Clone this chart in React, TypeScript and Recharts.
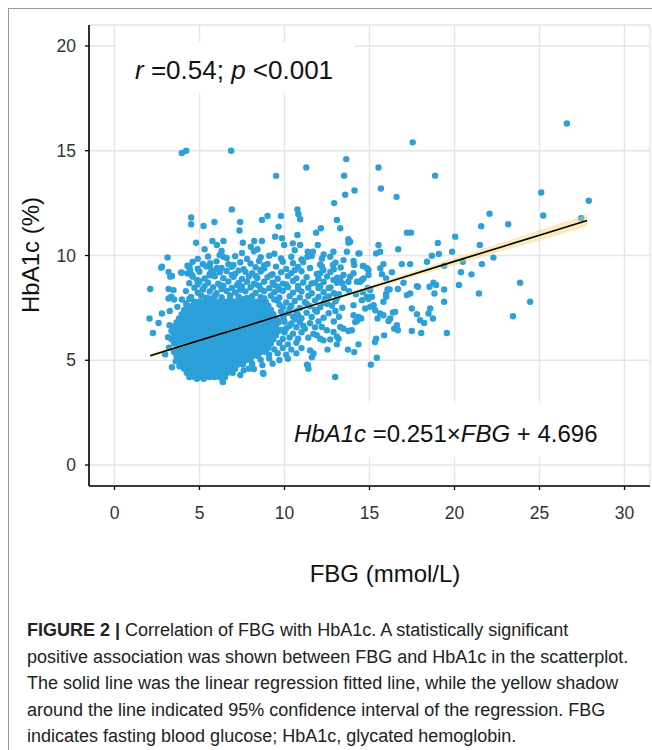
import React from "react";
import { ComposedChart, Scatter, Area, Line, XAxis, YAxis, CartesianGrid } from "recharts";

const FONT = "'Liberation Sans', Arial, Helvetica, sans-serif";
const DOT = "#2ba0da";

// axis ticks
const xTicks = [0, 5, 10, 15, 20, 25, 30];
const yTicks = [0, 5, 10, 15, 20];

// regression fit + 95% CI
const fitX = [2.1, 5, 8, 11, 14, 17, 20, 23, 26, 27.8];
const fitY = [5.22, 5.95, 6.7, 7.46, 8.21, 8.96, 9.72, 10.47, 11.22, 11.67];
const ciLow = [5.12, 5.9, 6.66, 7.4, 8.12, 8.83, 9.55, 10.26, 10.96, 11.38];
const ciHigh = [5.32, 6.0, 6.74, 7.52, 8.3, 9.09, 9.89, 10.68, 11.48, 11.96];

// sparse points (FBG, HbA1c)
const outliers: [number, number][] = [
  [3.96, 14.89], [4.22, 15.0], [6.86, 15.0], [13.63, 14.6], [11.28, 14.2], [9.51, 13.8],
  [13.51, 13.81], [13.57, 12.9], [14.12, 13.1], [12.92, 12.5], [6.9, 12.2], [10.76, 12.2],
  [26.61, 16.3], [17.54, 15.4], [15.53, 14.2], [18.86, 13.81], [15.67, 13.2], [16.59, 12.8],
  [25.1, 13.01], [27.9, 12.61], [25.22, 11.91], [27.45, 11.78], [22.06, 11.99], [23.16, 11.49],
  [21.57, 11.4], [20.04, 10.9], [21.49, 10.5], [19.02, 10.6], [19.86, 10.18], [20.49, 9.7],
  [21.61, 9.59], [22.29, 9.9], [17.2, 11.09], [17.44, 11.09], [16.69, 10.3], [15.53, 10.5],
  [15.39, 10.1], [15.63, 10.18], [14.41, 10.1], [18.67, 9.99], [19.08, 10.07], [18.38, 9.7],
  [19.39, 9.51], [16.9, 9.59], [17.39, 9.59], [15.82, 9.59], [15.63, 9.39], [16.32, 9.2],
  [15.73, 9.11], [15.98, 8.91], [17.0, 8.7], [20.38, 9.2], [21.0, 9.1], [20.26, 8.59],
  [18.53, 8.51], [18.76, 8.7], [18.92, 8.59], [19.39, 8.38], [17.85, 8.51], [21.44, 8.19],
  [23.86, 8.7], [24.45, 7.79], [23.44, 7.1], [19.39, 7.79], [19.55, 6.3], [18.73, 6.99],
  [18.57, 7.47], [18.47, 7.23], [18.22, 6.78], [17.98, 6.91], [17.79, 7.2], [17.49, 7.47],
  [18.82, 8.19], [17.49, 6.4], [18.04, 6.3], [17.79, 8.54], [17.39, 8.19], [17.2, 8.11],
  [16.61, 6.67], [16.67, 6.43], [16.45, 6.51], [16.38, 7.28], [16.51, 7.31], [16.22, 6.99],
  [16.12, 6.88], [15.82, 7.15], [15.86, 6.19], [15.39, 6.03], [15.32, 5.87], [15.43, 5.12],
  [15.08, 4.79], [12.98, 4.2], [11.32, 4.79], [11.41, 4.6], [16.06, 8.38], [15.98, 8.16],
  [16.67, 8.4], [14.94, 7.93], [15.14, 8.03], [15.82, 7.79], [15.98, 8.03], [16.18, 8.38],
];

// scattered points above and right of the main cloud
const midScatter: [number, number][] = [
  [4.51, 11.81], [4.51, 11.49], [5.24, 11.41], [5.88, 11.6], [7.39, 11.6], [7.35, 11.19],
  [8.67, 11.7], [9.0, 11.89], [9.79, 11.89], [10.82, 11.97], [10.92, 11.73], [9.65, 11.38],
  [13.08, 11.7], [13.28, 11.3], [12.14, 11.3], [11.86, 11.09], [10.76, 10.98], [9.45, 10.9],
  [9.85, 10.82], [4.8, 10.61], [5.76, 10.69], [6.02, 10.5], [6.41, 10.69], [7.55, 10.61],
  [8.22, 10.69], [8.67, 10.69], [8.02, 10.42], [8.41, 10.3], [9.98, 10.5], [10.49, 10.58],
  [10.92, 10.5], [11.96, 10.5], [11.37, 10.18], [12.69, 9.94], [12.88, 10.18], [13.76, 10.61],
  [13.67, 10.18], [14.35, 10.1], [3.12, 9.91], [2.75, 9.42], [3.18, 9.22], [3.92, 9.19],
  [2.1, 8.4], [3.18, 8.4], [3.28, 8.99], [4.29, 9.51], [4.45, 9.3], [13.47, 9.78],
  [14.06, 9.15], [13.76, 8.75], [14.26, 8.75], [13.86, 10.66], [13.76, 10.78], [14.06, 9.74],
  [14.1, 9.55], [14.65, 9.5], [14.55, 8.83], [13.86, 8.99], [13.47, 9.07], [12.88, 8.83],
  [13.08, 8.7], [13.28, 8.91], [12.1, 9.15], [12.29, 9.31], [12.85, 9.55], [11.51, 10.1],
  [11.67, 10.18], [11.35, 9.94], [14.94, 9.3], [14.61, 9.5], [14.85, 9.39], [14.94, 9.07],
  [14.65, 8.91], [14.45, 8.75], [15.04, 8.35], [14.85, 8.03], [14.55, 7.87], [14.06, 7.63],
  [11.8, 8.7], [12.0, 8.45], [12.3, 8.25], [12.6, 8.45], [12.9, 8.2], [13.2, 8.15],
  [13.5, 8.45], [13.8, 8.3], [14.2, 8.15], [14.6, 8.25], [14.9, 8.45],
  [14.75, 7.47], [15.04, 7.55], [15.34, 7.39], [15.24, 7.63], [15.47, 6.99], [15.63, 7.23],
  [14.06, 7.15], [14.35, 7.07], [14.26, 6.88], [14.51, 6.99], [14.16, 6.83], [13.96, 6.43],
  [13.76, 6.4], [13.47, 6.51], [13.28, 6.59], [12.88, 6.35], [12.49, 6.43], [12.2, 6.59],
  [12.29, 5.95], [12.69, 5.99], [13.08, 6.14], [12.1, 6.03], [12.53, 5.51], [13.08, 5.76],
  [13.18, 6.03], [13.73, 5.51], [14.1, 5.39], [14.35, 5.76], [11.61, 5.15], [11.71, 5.32],
  [11.51, 5.47],
];

// points left of / below the core
const lowScatter: [number, number][] = [
  [2.06, 6.99], [2.26, 6.3], [2.59, 6.78], [2.79, 7.23], [3.38, 9.02], [3.96, 9.18],
  [4.35, 9.46], [3.34, 8.03], [3.51, 7.9], [3.96, 7.9], [4.22, 7.71], [3.24, 6.67],
  [2.98, 5.28], [3.38, 4.67], [3.82, 4.71], [4.85, 4.12], [5.33, 4.2], [6.37, 3.99],
  [6.22, 4.36], [8.73, 4.39], [11.38, 4.76], [2.79, 9.46], [3.18, 7.95], [3.47, 8.35],
  [4.41, 9.5], [4.55, 9.07], [4.85, 8.83], [5.63, 9.63], [6.02, 9.39], [5.82, 9.22],
  [6.41, 9.94], [6.18, 10.02], [5.24, 4.12], [6.38, 3.96], [8.76, 4.36], [4.06, 4.67],
  [4.65, 4.43], [3.2, 5.6], [3.15, 6.1], [3.25, 7.35], [3.7, 7.55], [7.4, 4.3],
  [7.9, 4.6], [3.6, 4.95],
];

// semi-dense band above the core
const upperScatter: [number, number][] = [
  [6.3, 10.22], [7.5, 10.12], [8.2, 10.2], [9.4, 10.08], [10.6, 10.25], [5.3, 10.3], [12.3, 10.05],
  [4.9, 9.84], [5.5, 9.95], [6.6, 9.88], [7.1, 9.97], [7.8, 9.83], [8.6, 9.92], [9.1, 9.99],
  [9.8, 9.86], [10.4, 9.94], [11.0, 9.81], [11.6, 9.98], [12.2, 9.85],
  [4.6, 9.7], [5.2, 9.6], [6.0, 9.72], [6.7, 9.58], [7.4, 9.68], [8.0, 9.62], [8.5, 9.74],
  [9.0, 9.6], [9.9, 9.7], [10.5, 9.63], [11.1, 9.69], [12.1, 9.57], [13.0, 9.66],
  [4.9, 9.37], [5.4, 9.48], [6.3, 9.4], [6.9, 9.46], [7.6, 9.35], [8.3, 9.44], [8.8, 9.38],
  [9.5, 9.47], [10.1, 9.36], [10.8, 9.45], [11.5, 9.4], [12.2, 9.48], [12.9, 9.34], [13.3, 9.43],
  [4.3, 9.14], [5.0, 9.23], [5.6, 9.12], [6.2, 9.2], [6.6, 9.26], [7.1, 9.13], [7.7, 9.22],
  [8.1, 9.15], [8.6, 9.24], [9.3, 9.11], [9.8, 9.2], [10.4, 9.16], [11.0, 9.25], [11.9, 9.12],
  [12.7, 9.21], [4.6, 8.99], [5.3, 8.9], [5.9, 9.01], [6.4, 8.92], [7.0, 8.98], [7.5, 8.88],
  [7.9, 9.0], [8.4, 8.93], [9.0, 8.97], [9.6, 8.89], [10.2, 9.02], [10.7, 8.91], [11.3, 8.96],
  [12.0, 8.9], [12.5, 9.0], [13.1, 8.94], [4.4, 8.68], [5.0, 8.77], [5.5, 8.7], [6.1, 8.66],
  [6.7, 8.76], [7.3, 8.69], [7.8, 8.74], [8.2, 8.65], [8.8, 8.75], [9.3, 8.7], [9.9, 8.66],
  [10.5, 8.78], [11.1, 8.71], [11.6, 8.67], [12.3, 8.74], [13.4, 8.68], [4.7, 8.46], [5.3, 8.54],
  [5.8, 8.48], [6.4, 8.55], [6.9, 8.45], [7.5, 8.52], [8.0, 8.47], [8.5, 8.56], [9.1, 8.44],
  [9.6, 8.51], [10.2, 8.49], [10.8, 8.55], [11.4, 8.46], [12.1, 8.53], [12.7, 8.48],
  [4.2, 8.3], [4.9, 8.22], [5.6, 8.28], [6.0, 8.2], [6.6, 8.31], [7.1, 8.24], [7.7, 8.29],
  [8.3, 8.21], [8.8, 8.3], [9.4, 8.25], [9.9, 8.32], [10.5, 8.23], [11.0, 8.28], [11.6, 8.2],
  [4.5, 8.02], [5.1, 8.08], [5.4, 7.99], [5.9, 8.06], [6.3, 8.0], [6.8, 8.09], [7.3, 8.03],
  [7.8, 7.98], [8.1, 8.07], [8.6, 8.01], [9.2, 8.08], [9.7, 8.0], [10.3, 8.06], [10.9, 7.99],
  [11.4, 8.07], [12.0, 8.02], [12.6, 8.05], [13.1, 7.98], [5.6, 9.05], [6.9, 9.07], [8.3, 9.03],
  [9.2, 9.06], [5.2, 8.38], [6.3, 8.4], [7.4, 8.36], [8.6, 8.39], [9.7, 8.37], [10.8, 8.4],
  [4.9, 8.62], [6.2, 8.6], [7.2, 8.58], [8.3, 8.62], [9.4, 8.6], [10.1, 8.62], [5.7, 9.3],
  [7.3, 9.28], [8.6, 9.31], [10.6, 9.3], [5.6, 9.52], [7.0, 9.55], [8.8, 9.53], [4.4, 7.93],
  [5.6, 7.95], [6.8, 7.94], [7.6, 7.92], [8.8, 7.96], [9.4, 7.9],
];

// looser points right of the core
const rightScatter: [number, number][] = [
  [9.6, 7.84], [10.1, 7.76], [10.6, 7.83], [11.2, 7.77], [11.8, 7.85], [12.3, 7.75], [13.0, 7.82],
  [9.9, 7.52], [10.4, 7.6], [10.9, 7.5], [11.5, 7.58], [12.1, 7.53], [12.8, 7.6], [13.4, 7.51],
  [9.8, 7.33], [10.2, 7.26], [10.7, 7.34], [11.3, 7.27], [11.9, 7.32], [12.6, 7.25],
  [9.95, 7.02], [10.5, 7.09], [11.0, 7.01], [11.6, 7.07], [12.3, 7.03], [13.2, 7.08],
  [10.0, 6.84], [10.4, 6.76], [10.9, 6.83], [11.5, 6.77], [12.0, 6.85],
  [10.1, 6.52], [10.7, 6.58], [11.2, 6.5], [11.8, 6.57], [10.0, 6.33], [10.5, 6.27],
  [11.0, 6.34], [11.7, 6.26], [9.9, 6.02], [10.3, 6.09], [10.8, 6.03], [11.4, 6.08],
  [9.7, 5.83], [10.2, 5.76], [10.7, 5.84], [9.4, 5.52], [9.9, 5.59], [10.4, 5.51], [11.0, 5.58],
  [9.1, 5.27], [9.6, 5.34], [10.1, 5.26], [10.7, 5.33], [8.6, 5.02], [9.1, 5.08], [9.7, 5.01],
  [10.2, 5.07], [8.1, 4.82], [8.7, 4.77], [9.3, 4.84], [7.6, 4.52], [8.2, 4.58],
  [9.7, 7.65], [10.3, 7.45], [10.8, 7.15], [11.3, 7.7], [11.8, 7.4], [12.4, 7.95], [10.6, 6.95],
  [9.9, 7.15], [10.3, 6.65], [11.1, 6.65], [12.5, 7.7], [13.0, 7.35], [12.9, 6.85], [11.9, 6.2],
  [9.8, 6.45], [9.6, 6.9],
];

// dense core of the cloud: [HbA1c, FBG values]
const coreRows: [number, number[]][] = [
  [7.8, [4.7, 5.0, 5.3, 5.6, 5.9, 6.2, 6.5, 6.8, 7.1, 7.4, 7.7, 8.0, 8.3, 8.6, 8.9]],
  [7.6, [4.25, 4.55, 4.85, 5.15, 5.45, 5.75, 6.05, 6.35, 6.65, 6.95, 7.25, 7.55, 7.85, 8.15, 8.45, 8.75, 9.05]],
  [7.4, [4.1, 4.4, 4.7, 5.0, 5.3, 5.6, 5.9, 6.2, 6.5, 6.8, 7.1, 7.4, 7.7, 8.0, 8.3, 8.6, 8.9, 9.2]],
  [7.2, [3.95, 4.25, 4.55, 4.85, 5.15, 5.45, 5.75, 6.05, 6.35, 6.65, 6.95, 7.25, 7.55, 7.85, 8.15, 8.45, 8.75, 9.05, 9.35]],
  [7.0, [3.8, 4.1, 4.4, 4.7, 5.0, 5.3, 5.6, 5.9, 6.2, 6.5, 6.8, 7.1, 7.4, 7.7, 8.0, 8.3, 8.6, 8.9, 9.2, 9.5]],
  [6.8, [3.65, 3.95, 4.25, 4.55, 4.85, 5.15, 5.45, 5.75, 6.05, 6.35, 6.65, 6.95, 7.25, 7.55, 7.85, 8.15, 8.45, 8.75, 9.05, 9.35, 9.65]],
  [6.6, [3.5, 3.8, 4.1, 4.4, 4.7, 5.0, 5.3, 5.6, 5.9, 6.2, 6.5, 6.8, 7.1, 7.4, 7.7, 8.0, 8.3, 8.6, 8.9, 9.2, 9.5]],
  [6.4, [3.35, 3.65, 3.95, 4.25, 4.55, 4.85, 5.15, 5.45, 5.75, 6.05, 6.35, 6.65, 6.95, 7.25, 7.55, 7.85, 8.15, 8.45, 8.75, 9.05, 9.35, 9.65]],
  [6.2, [3.5, 3.8, 4.1, 4.4, 4.7, 5.0, 5.3, 5.6, 5.9, 6.2, 6.5, 6.8, 7.1, 7.4, 7.7, 8.0, 8.3, 8.6, 8.9, 9.2, 9.5]],
  [6.0, [3.35, 3.65, 3.95, 4.25, 4.55, 4.85, 5.15, 5.45, 5.75, 6.05, 6.35, 6.65, 6.95, 7.25, 7.55, 7.85, 8.15, 8.45, 8.75, 9.05, 9.35]],
  [5.8, [3.5, 3.8, 4.1, 4.4, 4.7, 5.0, 5.3, 5.6, 5.9, 6.2, 6.5, 6.8, 7.1, 7.4, 7.7, 8.0, 8.3, 8.6, 8.9, 9.2]],
  [5.6, [3.65, 3.95, 4.25, 4.55, 4.85, 5.15, 5.45, 5.75, 6.05, 6.35, 6.65, 6.95, 7.25, 7.55, 7.85, 8.15, 8.45, 8.75, 9.05]],
  [5.4, [3.5, 3.8, 4.1, 4.4, 4.7, 5.0, 5.3, 5.6, 5.9, 6.2, 6.5, 6.8, 7.1, 7.4, 7.7, 8.0, 8.3, 8.6, 8.9]],
  [5.2, [3.65, 3.95, 4.25, 4.55, 4.85, 5.15, 5.45, 5.75, 6.05, 6.35, 6.65, 6.95, 7.25, 7.55, 7.85, 8.15, 8.45]],
  [5.0, [3.8, 4.1, 4.4, 4.7, 5.0, 5.3, 5.6, 5.9, 6.2, 6.5, 6.8, 7.1, 7.4, 7.7, 8.0]],
  [4.8, [3.95, 4.25, 4.55, 4.85, 5.15, 5.45, 5.75, 6.05, 6.35, 6.65, 6.95, 7.25, 7.55]],
  [4.6, [4.1, 4.4, 4.7, 5.0, 5.3, 5.6, 5.9, 6.2, 6.5, 6.8, 7.1]],
  [4.4, [4.25, 4.55, 4.85, 5.15, 5.45, 5.75, 6.05, 6.35, 6.65, 6.95]],
  [4.2, [4.4, 4.7, 5.0, 5.3, 5.6, 5.9, 6.2, 6.5]],
];

const captionLines = [
  "positive association was shown between FBG and HbA1c in the scatterplot.",
  "The solid line was the linear regression fitted line, while the yellow shadow",
  "around the line indicated 95% confidence interval of the regression. FBG",
  "indicates fasting blood glucose; HbA1c, glycated hemoglobin.",
];

const fromPairs = (arr: [number, number][]) => arr.map(([x, y]) => ({ x, y }));
const fromRows = (rows: [number, number[]][]) =>
  rows.flatMap(([y, xs]) => xs.map((x) => ({ x, y })));

const points = [
  ...fromRows(coreRows),
  ...fromPairs(upperScatter),
  ...fromPairs(rightScatter),
  ...fromPairs(lowScatter),
  ...fromPairs(midScatter),
  ...fromPairs(outliers),
];

const fitData = fitX.map((x, i) => ({ x, fit: fitY[i], band: [ciLow[i], ciHigh[i]] }));

const renderDot = (p: any) => <circle cx={p.cx} cy={p.cy} r={3.2} fill={DOT} />;

const App = () => {
  return (
    <div
      style={{
        position: "absolute",
        left: 8,
        top: 8,
        width: 644,
        height: 742,
        borderTop: "1px solid #9a9a9a",
        borderLeft: "1px solid #9a9a9a",
        boxSizing: "border-box",
        overflow: "hidden",
        background: "#fff",
      }}
    >
      <div style={{ position: "absolute", left: -9, top: -9 }}>
        <ComposedChart
          width={652}
          height={560}
          data={fitData}
          margin={{ top: 25, right: 2, left: 0, bottom: 34 }}
        >
          <CartesianGrid stroke="#e6e6e6" strokeWidth={1.5} />
          <XAxis
            type="number"
            dataKey="x"
            domain={[-1.5, 31.5]}
            ticks={xTicks}
            height={40}
            tickSize={4}
            tickMargin={17}
            axisLine={{ stroke: "#000", strokeWidth: 1.6 }}
            tickLine={{ stroke: "#000", strokeWidth: 1.3 }}
            tick={{ fill: "#333", fontSize: 17.5, fontFamily: FONT }}
          />
          <YAxis
            type="number"
            dataKey="y"
            domain={[-1, 21]}
            ticks={yTicks}
            width={89}
            tickSize={4}
            tickMargin={9}
            axisLine={{ stroke: "#000", strokeWidth: 1.6 }}
            tickLine={{ stroke: "#000", strokeWidth: 1.3 }}
            tick={{ fill: "#333", fontSize: 17.5, fontFamily: FONT }}
          />
          <Scatter data={points} shape={renderDot} isAnimationActive={false} zIndex={600} />
          <Area
            dataKey="band"
            type="monotone"
            stroke="none"
            fill="#f2d36b"
            fillOpacity={0.45}
            isAnimationActive={false}
            zIndex={650}
          />
          <Line
            dataKey="fit"
            type="linear"
            stroke="#000"
            strokeWidth={1.6}
            dot={false}
            isAnimationActive={false}
            zIndex={700}
          />
        </ComposedChart>
      </div>

      {/* labels, annotations, caption */}
      <svg
        width={652}
        height={750}
        style={{ position: "absolute", left: -9, top: -9, pointerEvents: "none" }}
        fontFamily={FONT}
      >
        <rect x={116} y={42} width={238} height={51} fill="#fff" />
        <rect x={288} y={403} width={312} height={54} fill="#fff" />
        <text x={135} y={79} fontSize={26} fill="#111">
          <tspan fontStyle="italic">r</tspan>
          {" =0.54; "}
          <tspan fontStyle="italic">p</tspan>
          {" <0.001"}
        </text>
        <text x={294} y={441.5} fontSize={24} fill="#111">
          <tspan fontStyle="italic">HbA1c</tspan>
          {" =0.251×"}
          <tspan fontStyle="italic">FBG</tspan>
          {" + 4.696"}
        </text>
        <text transform="translate(39,255) rotate(-90)" textAnchor="middle" fontSize={24} fill="#111">
          HbA1c (%)
        </text>
        <text x={385} y={582} textAnchor="middle" fontSize={24} fill="#111">
          FBG (mmol/L)
        </text>
        <text x={27} y={636} fontSize={18} fill="#222">
          <tspan fontWeight="bold">FIGURE 2 | </tspan>
          Correlation of FBG with HbA1c. A statistically significant
        </text>
        {captionLines.map((line, i) => (
          <text key={i} x={27} y={662.5 + i * 26.5} fontSize={18} fill="#222">
            {line}
          </text>
        ))}
      </svg>
    </div>
  );
};

export default App;
